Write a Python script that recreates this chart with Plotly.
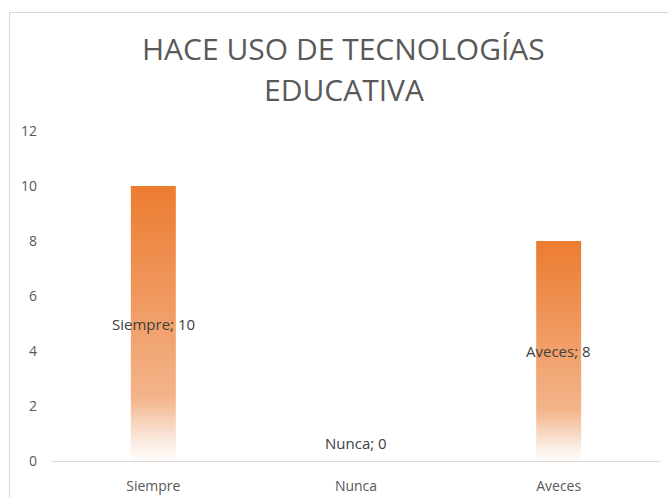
import plotly.graph_objects as go

# Survey answers and counts
categorias = ["Siempre", "Nunca", "Aveces"]
valores = [10, 0, 8]
y_ticks = [0, 2, 4, 6, 8, 10, 12]
titulo_lineas = ["HACE USO DE TECNOLOGÍAS", "EDUCATIVA"]

ancho_barra = 0.222
gradiente = [
    [0.0, "rgb(255,253,252)"],
    [0.08, "rgb(250,232,220)"],
    [0.23, "rgb(243,180,138)"],
    [0.6, "rgb(240,152,95)"],
    [1.0, "rgb(236,124,48)"],
]

fig = go.Figure()

# Bars drawn as filled polygons so they can carry a vertical gradient
for i, (cat, v) in enumerate(zip(categorias, valores)):
    if v <= 0:
        continue
    x0, x1 = i - ancho_barra / 2, i + ancho_barra / 2
    fig.add_trace(go.Scatter(
        x=[x0, x1, x1, x0, x0],
        y=[0, 0, v, v, 0],
        mode="lines",
        line=dict(width=0),
        fill="toself",
        fillgradient=dict(type="vertical", colorscale=gradiente),
        hoverinfo="skip",
        showlegend=False,
    ))

# Data labels: "categoría; valor" in the middle of each bar
for i, (cat, v) in enumerate(zip(categorias, valores)):
    fig.add_annotation(
        x=i, y=v / 2, xref="x", yref="y",
        text=f"{cat}; {v}",
        showarrow=False,
        yshift=18 if v == 0 else 0,
        font=dict(family="Open Sans", size=15, color="#404040"),
    )

# Two-line chart title
for k, linea in enumerate(titulo_lineas):
    fig.add_annotation(
        x=0.48, y=1.2515 - k * 0.1245, xref="paper", yref="paper",
        xanchor="center", yanchor="middle",
        text=linea, showarrow=False,
        font=dict(family="Open Sans", size=30, color="#595959"),
    )

# Chart-area border
fig.add_shape(
    type="rect", xref="paper", yref="paper",
    x0=-42.5 / 608, x1=1.2, y0=-0.3, y1=1 + 118.5 / 330,
    line=dict(color="#d9d9d9", width=1), fillcolor="rgba(0,0,0,0)",
    layer="below",
)

fig.update_layout(
    width=668, height=498,
    margin=dict(l=52, r=8, t=131, b=37, autoexpand=False),
    paper_bgcolor="white", plot_bgcolor="white",
    xaxis=dict(
        range=[-0.5, 2.5],
        tickvals=list(range(len(categorias))),
        ticktext=categorias,
        showgrid=False, zeroline=False,
        showline=True, linecolor="#d9d9d9", linewidth=1,
        ticks="", ticklabelstandoff=12,
        tickfont=dict(family="Open Sans", size=14, color="#595959"),
        fixedrange=True, automargin=False,
    ),
    yaxis=dict(
        range=[0, 12],
        tickvals=y_ticks,
        showgrid=False, zeroline=False, showline=False,
        ticks="", ticklabelstandoff=14,
        tickfont=dict(family="Open Sans", size=14, color="#595959"),
        fixedrange=True, automargin=False,
    ),
    showlegend=False,
)

fig.write_html("out.html")
